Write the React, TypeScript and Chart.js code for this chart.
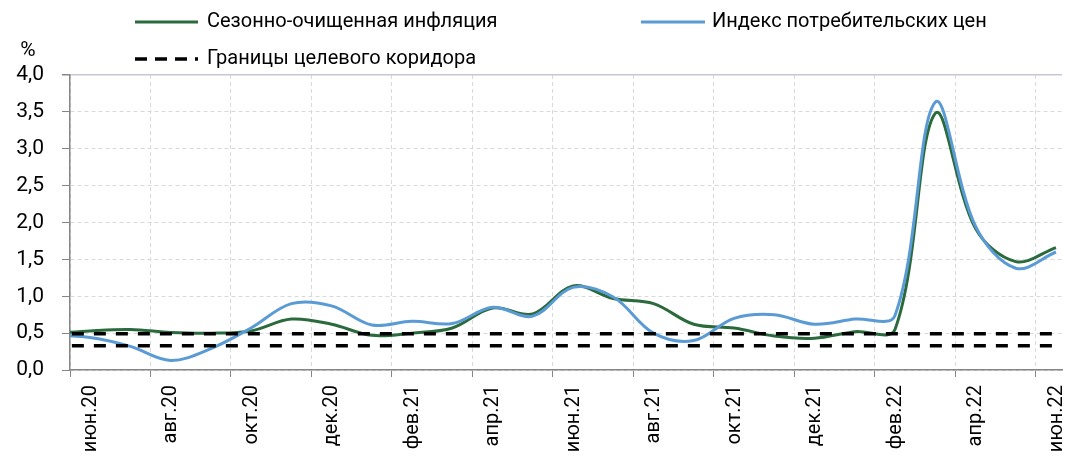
import React, { useEffect, useRef } from 'react';
import { Chart, registerables } from 'chart.js';

Chart.register(...registerables);

// Months (index 0 = май.20, partly outside the plot on the left)
const months = ['май.20','июн.20','июл.20','авг.20','сен.20','окт.20','ноя.20','дек.20','янв.21','фев.21','мар.21','апр.21','май.21','июн.21','июл.21','авг.21','сен.21','окт.21','ноя.21','дек.21','янв.22','фев.22','мар.22','апр.22','май.22','июн.22'];

const seasonalAdj = [0.49,0.53,0.55,0.51,0.50,0.53,0.69,0.62,0.47,0.50,0.57,0.84,0.76,1.14,0.97,0.90,0.62,0.57,0.46,0.43,0.52,0.55,3.48,1.92,1.47,1.66];
const cpi = [0.48,0.44,0.32,0.13,0.29,0.57,0.90,0.87,0.61,0.66,0.63,0.85,0.73,1.12,0.99,0.50,0.40,0.70,0.75,0.62,0.69,0.74,3.63,1.95,1.38,1.60];

const corridorMonths = ['май.20','июн.22'];
const corridorUpper = [0.49,0.49];
const corridorLower = [0.33,0.33];

const xTickLabels = ['июн.20','авг.20','окт.20','дек.20','фев.21','апр.21','июн.21','авг.21','окт.21','дек.21','фев.22','апр.22','июн.22'];
const yTicks = [0,0.5,1,1.5,2,2.5,3,3.5,4];

const seriesNames = ['Сезонно-очищенная инфляция','Индекс потребительских цен','Границы целевого коридора'];

const FONT = 'Roboto';
const FS = 20;
const FS_Y = 21;
const GREEN = '#2a6a3c';
const BLUE = '#5b9bd5';

const pos = (m: string) => months.indexOf(m) - 1; // июн.20 -> 0

export default function App() {
  const ref = useRef<HTMLCanvasElement>(null);
  useEffect(() => {
    document.body.style.margin = '0';
    const canvas = ref.current!;
    const legendPlugin = {
      id: 'customLegend',
      afterDraw(chart: any) {
        const ctx = chart.ctx;
        ctx.save();
        ctx.font = `${FS}px ${FONT}`;
        ctx.textBaseline = 'middle';
        ctx.textAlign = 'left';
        ctx.fillStyle = '#000';
        const items = [
          { text: seriesNames[0], color: GREEN, dash: [], x1: 135, x2: 198, tx: 207, y: 22, w: 3 },
          { text: seriesNames[1], color: BLUE, dash: [], x1: 641, x2: 705, tx: 712, y: 22, w: 3 },
          { text: seriesNames[2], color: '#000', dash: [12, 8], x1: 135, x2: 198, tx: 207, y: 59, w: 3.5 },
        ];
        for (const it of items) {
          ctx.save();
          ctx.strokeStyle = it.color;
          ctx.lineWidth = it.w;
          ctx.setLineDash(it.dash);
          ctx.beginPath();
          ctx.moveTo(it.x1, it.y);
          ctx.lineTo(it.x2, it.y);
          ctx.stroke();
          ctx.restore();
          ctx.fillText(it.text, it.tx, it.y);
        }
        ctx.textAlign = 'center';
        ctx.font = `${FS_Y}px ${FONT}`;
        ctx.fillText('%', 28, 51);
        ctx.restore();
      },
    };

    const chart = new Chart(canvas, {
      type: 'line',
      data: {
        datasets: [
          {
            label: seriesNames[2],
            data: corridorMonths.map((m, i) => ({ x: pos(m), y: corridorUpper[i] })),
            borderColor: '#000', borderWidth: 3.5, borderDash: [12, 10], pointRadius: 0, tension: 0,
          },
          {
            label: seriesNames[2] + ' ',
            data: corridorMonths.map((m, i) => ({ x: pos(m), y: corridorLower[i] })),
            borderColor: '#000', borderWidth: 3.5, borderDash: [12, 10], pointRadius: 0, tension: 0,
          },
          {
            label: seriesNames[1],
            data: months.map((m, i) => ({ x: pos(m), y: cpi[i] })),
            borderColor: BLUE, borderWidth: 3, pointRadius: 0, tension: 0.35,
          },
          {
            label: seriesNames[0],
            data: months.map((m, i) => ({ x: pos(m), y: seasonalAdj[i] })),
            borderColor: GREEN, borderWidth: 3, pointRadius: 0, tension: 0.35,
          },
        ],
      },
      options: {
        animation: false,
        responsive: false,
        devicePixelRatio: 1,
        layout: { padding: { top: 75, right: 12, left: 0, bottom: 0 } },
        plugins: { legend: { display: false }, tooltip: { enabled: false } },
        scales: {
          x: {
            type: 'linear',
            min: -0.5,
            max: 24.15,
            afterBuildTicks: (s: any) => {
              s.ticks = xTickLabels.map((l) => ({ value: pos(l) - 0.5 }));
            },
            afterFit: (s: any) => { s.height = 88; },
            ticks: {
              autoSkip: false,
              maxRotation: 90,
              minRotation: 90,
              labelOffset: 21,
              padding: 8,
              color: '#000',
              font: { family: FONT, size: FS },
              callback: (_v: any, i: number) => xTickLabels[i],
            },
            grid: { color: '#d9d9d9', tickColor: '#868686', tickLength: 7, lineWidth: 1 },
            border: { color: '#868686', width: 1.5, dash: [4, 3] },
          },
          y: {
            min: 0,
            max: 4,
            afterBuildTicks: (s: any) => { s.ticks = yTicks.map((v) => ({ value: v })); },
            afterFit: (s: any) => { s.width = 70; },
            ticks: {
              padding: 18,
              color: '#000',
              font: { family: FONT, size: FS_Y },
              callback: (v: any) => Number(v).toFixed(1).replace('.', ','),
            },
            grid: {
              color: (c: any) => (c.tick && c.tick.value === 4 ? '#c9c5d6' : '#d9d9d9'),
              tickColor: '#868686',
              tickLength: 8,
              lineWidth: (c: any) => (c.tick && c.tick.value === 4 ? 1.5 : 1),
            },
            border: {
              color: '#868686', width: 1.5,
              dash: (c: any) => (c.tick && c.tick.value === 4 ? [] : [4, 3]),
            },
          },
        },
      },
      plugins: [legendPlugin],
    } as any);
    return () => chart.destroy();
  }, []);
  return <canvas ref={ref} width={1074} height={458} style={{ display: 'block' }} />;
}
